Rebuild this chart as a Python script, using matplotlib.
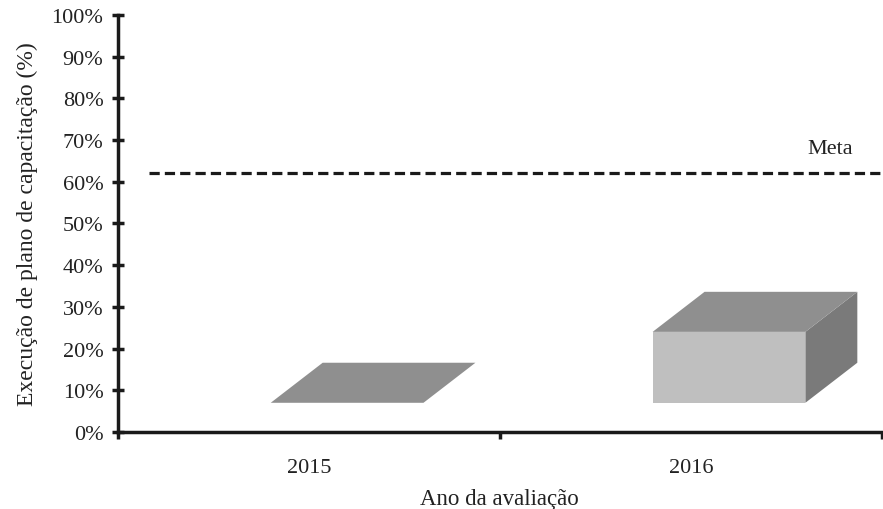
# Execução do plano de capacitação por ano, barras em pseudo-3D com linha de meta.
import matplotlib.pyplot as plt
from matplotlib.patches import Polygon

anos = ["2015", "2016"]
execucao = [0, 17]  # % executado
meta = 62  # %

BASE = 7.0  # altura do "piso" no desenho 3D
LEFT, RIGHT = -0.1, 0.3  # face frontal relativa ao centro da categoria
DX, DY = 0.136, 9.6  # deslocamento da profundidade
TXT = "#222222"

plt.rcParams["font.family"] = ["Liberation Serif", "DejaVu Serif"]

fig = plt.figure(figsize=(8.83, 5.10), dpi=100)
ax = fig.add_axes([0.1336, 0.151, 0.865, 0.818])

for i, v in enumerate(execucao):
    x0, x1 = i + LEFT, i + RIGHT
    y0, y1 = BASE, BASE + v
    top = [(x0, y1), (x1, y1), (x1 + DX, y1 + DY), (x0 + DX, y1 + DY)]
    if v > 0:
        ax.add_patch(Polygon([(x0, y0), (x1, y0), (x1, y1), (x0, y1)], closed=True, fc="#bfbfbf", ec="none"))
        ax.add_patch(Polygon([(x1, y0), (x1 + DX, y0 + DY), (x1 + DX, y1 + DY), (x1, y1)], closed=True, fc="#7a7a7a", ec="none"))
    ax.add_patch(Polygon(top, closed=True, fc="#8f8f8f", ec="none"))

ax.hlines(meta, -0.42, 1.5, colors="#1a1a1a", linestyles=(0, (3.2, 1.6)), linewidth=2.3)
ax.text(1.364, meta + 6, "Meta", ha="center", va="center", fontsize=16, color=TXT)

ax.set_xlim(-0.5, 1.5)
ax.set_ylim(0, 100)
ax.set_yticks(range(0, 101, 10))
ax.set_yticklabels([f"{t}%" for t in range(0, 101, 10)], fontsize=16, color=TXT)
ax.set_xticks([-0.5, 0.5, 1.5])
ax.set_xticklabels([])
ax.set_xticks([0, 1], minor=True)
ax.set_xticklabels(anos, minor=True, fontsize=16, color=TXT)
ax.tick_params(axis="x", which="minor", length=0, pad=19)
ax.tick_params(axis="x", which="major", direction="out", length=5, width=2.5, color="#1a1a1a")
ax.tick_params(axis="y", direction="inout", length=9, width=2.5, color="#1a1a1a", pad=6)

for s in ["top", "right"]:
    ax.spines[s].set_visible(False)
for s in ["left", "bottom"]:
    ax.spines[s].set_linewidth(2.5)
    ax.spines[s].set_color("#1a1a1a")

ax.set_xlabel("Ano da avaliação", fontsize=16.5, color=TXT, labelpad=8)
ax.set_ylabel("Execução de plano de capacitação (%)", fontsize=17, color=TXT, labelpad=10)

fig.savefig("out.png", dpi=100)
